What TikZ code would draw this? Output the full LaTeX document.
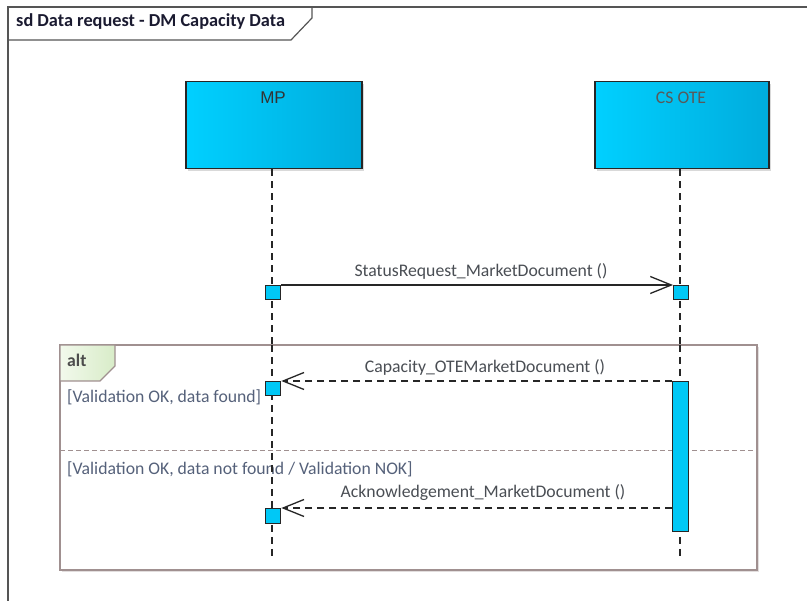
\documentclass[tikz,border=0pt]{standalone}
\usepackage{fontspec}
\setmainfont{Carlito}
\newfontfamily\arialf{Liberation Sans}
\usetikzlibrary{arrows.meta,calc}
\definecolor{boxL}{HTML}{00D0FF}
\definecolor{boxR}{HTML}{00ACDD}
\definecolor{actC}{HTML}{00C8F6}
\definecolor{frameC}{HTML}{555555}
\definecolor{altC}{HTML}{A09090}
\definecolor{msgC}{HTML}{4A4E54}
\definecolor{guardC}{HTML}{55617A}
\definecolor{titleC}{HTML}{1A1A30}
\definecolor{greenL}{HTML}{F2F9EC}
\definecolor{greenR}{HTML}{D8ECC8}
\tikzset{
  x=1pt, y=-1pt,
  txt/.style={font=\fontsize{17.7}{20}\selectfont, inner sep=0pt},
  lifebox/.style={draw=black!85, line width=1.5pt, left color=boxL, right color=boxR, minimum width=176pt, minimum height=87pt, inner sep=0pt},
  act/.style={draw=black!85, line width=1.3pt, fill=actC, inner sep=0pt, minimum width=15pt},
  lifeline/.style={draw=black!85, line width=1.3pt, dash pattern=on 7pt off 5pt},
  sync/.style={draw=black!85, line width=1.3pt, -{Straight Barb[length=21pt, width=17pt, line width=1.3pt]}},
  reply/.style={draw=black!85, line width=1.3pt, dash pattern=on 7pt off 5pt, -{Straight Barb[length=21pt, width=17pt, line width=1.3pt]}},
  msg/.style={txt, text=msgC},
  guard/.style={txt, text=guardC, anchor=west},
}
\begin{document}
\begin{tikzpicture}
\useasboundingbox (0,0) rectangle (807,601);
\clip (0,0) rectangle (807,601);
\fill[white] (0,0) rectangle (807,601);
% outer frame
\draw[frameC, line width=1.5pt] (8,640) -- (8,7) -- (840,7);
\draw[frameC, line width=1.2pt] (8,40) -- (291,40) -- (312,18) -- (312,7);
\node[txt, anchor=west, font=\fontsize{18.3}{20}\selectfont\bfseries, text=titleC] (title) at (16,22) {sd Data request - DM Capacity Data};

% lifeline heads (shadows)
\fill[black!15] (188,84) rectangle (364,171);
\fill[black!15] (597,84) rectangle (771,171);
\node[lifebox, anchor=north west] (mp) at (185,81) {};
\node[lifebox, anchor=north west, minimum width=174pt] (cs) at (594,81) {};
\node[txt, text=black!80, font=\arialf\fontsize{17}{20}\selectfont] (mplab) at (273,98) {MP};
\node[txt, text=black!65] (cslab) at (681,98) {CS OTE};

% lifelines
\coordinate (mpend) at (272,560);
\coordinate (csend) at (680,560);
\draw[lifeline] (mp.south -| mpend) -- (mpend);
\draw[lifeline] (cs.south -| csend) -- (csend);

% alt fragment
\fill[altC!30] (62,347) rectangle (759,572);
\draw[altC, line width=1.4pt, fill=white] (60,345) rectangle (757,570);
\draw[altC, line width=1.2pt, left color=greenL, right color=greenR] (60,345) -- (115,345) -- (115,366) -- (100,381) -- (60,381) -- cycle;
\node[txt, anchor=west, font=\fontsize{17.7}{20}\selectfont\bfseries, text=black!70] (altlab) at (67,360) {alt};
\draw[altC, line width=1pt, dash pattern=on 5pt off 3pt] (60,451) -- (757,451);
\node[guard] (g1) at (67,397) {[Validation OK, data found]};
\node[guard] (g2) at (67,469) {[Validation OK, data not found / Validation NOK]};

% redraw lifelines inside the fragment
\draw[lifeline] (272,345) -- (mpend);
\draw[lifeline] (680,345) -- (csend);

% activations
\node[act, anchor=north west, minimum height=14pt] (a1) at (265,285) {};
\node[act, anchor=north west, minimum height=14pt] (b1) at (673,285) {};
\node[act, anchor=north west, minimum height=14pt] (a2) at (265,381) {};
\node[act, anchor=north west, minimum height=150pt, minimum width=16pt] (b2) at (672,381) {};
\node[act, anchor=north west, minimum height=15pt] (a3) at (265,508) {};

% messages
\draw[sync] (a1.north east) -- (b1.north west);
\node[msg] (m1) at (481,271) {StatusRequest\_MarketDocument ()};
\draw[reply] (b2.north west) -- (a2.north east);
\node[msg] (m2) at (485,367) {Capacity\_OTEMarketDocument ()};
\draw[reply] (a3.north east -| b2.west) -- (a3.north east);
\node[msg] (m3) at (483,493) {Acknowledgement\_MarketDocument ()};
\end{tikzpicture}
\end{document}
